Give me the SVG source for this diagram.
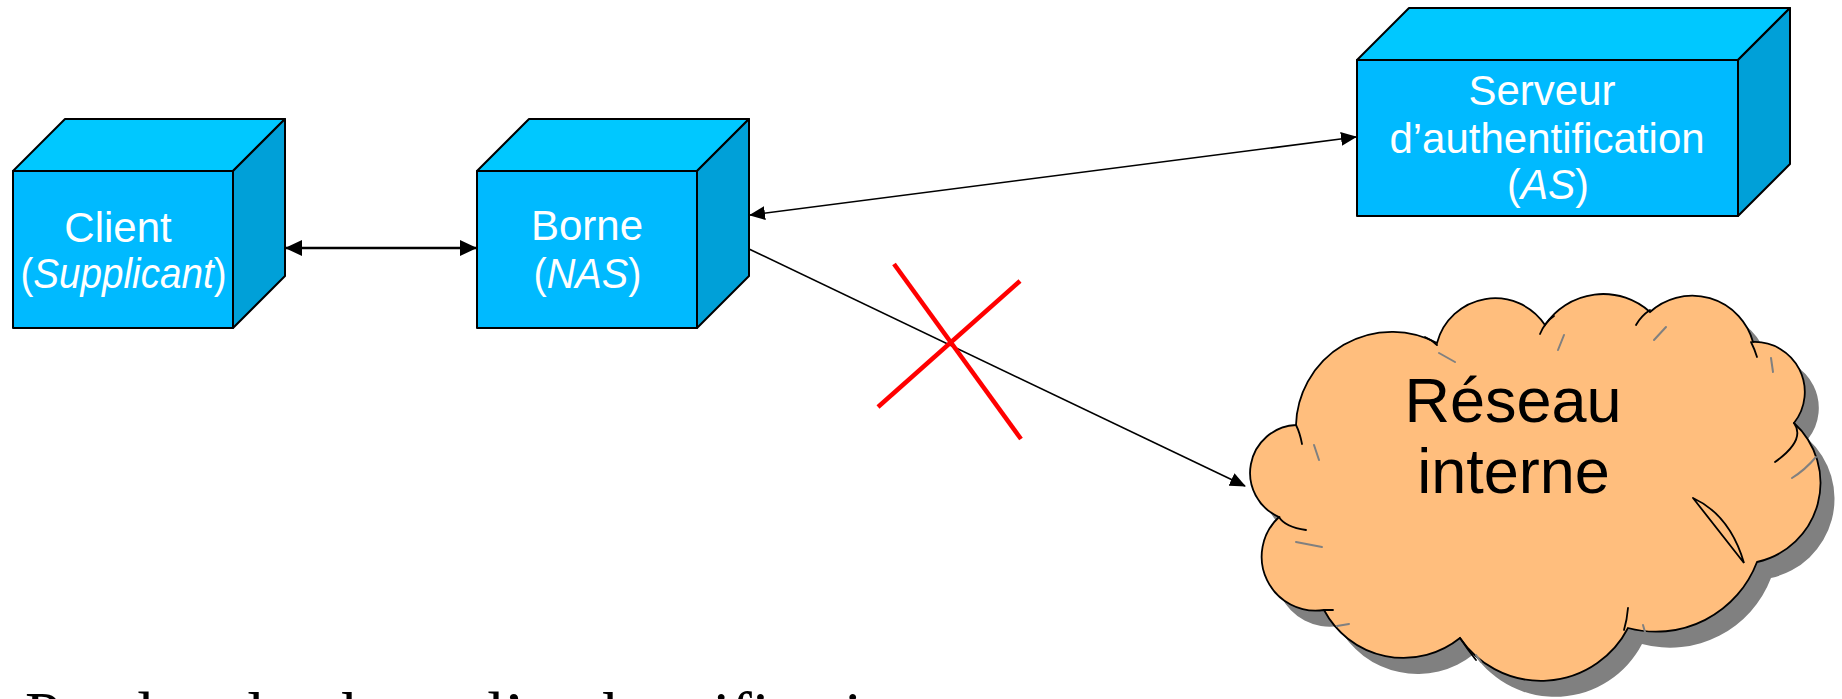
<svg xmlns="http://www.w3.org/2000/svg" width="1842" height="699" viewBox="0 0 1842 699">
<style>
.front{fill:#00BAFF;stroke:#000;stroke-width:2;stroke-linejoin:round}
.top{fill:#00C8FF;stroke:#000;stroke-width:2;stroke-linejoin:round}
.side{fill:#00A0D8;stroke:#000;stroke-width:2;stroke-linejoin:round}
.lbl{font-family:"Liberation Sans",Arial,sans-serif;font-size:42px;fill:#fff;text-anchor:middle}
.conn{stroke:#000;stroke-width:1.6;fill:none}
.inner{stroke:#000;stroke-width:1.8;fill:none;stroke-linecap:round}
.gray{stroke:#808080;stroke-width:2;fill:none;stroke-linecap:round}
.cross{stroke:#FF0000;stroke-width:4.5;stroke-linecap:butt}
</style>
<defs>
<marker id="ah" markerUnits="userSpaceOnUse" markerWidth="16" markerHeight="14" refX="15" refY="7" orient="auto-start-reverse" viewBox="0 0 16 14">
<path d="M0,0 L16,7 L0,14 Z" fill="#000"/>
</marker>
<marker id="ahb" markerUnits="userSpaceOnUse" markerWidth="17" markerHeight="16" refX="16" refY="8" orient="auto-start-reverse" viewBox="0 0 17 16">
<path d="M0,0 L17,8 L0,16 Z" fill="#000"/>
</marker>
</defs>

<g id="client">
<rect class="front" x="13" y="171" width="220" height="157"/>
<polygon class="top" points="13,171 65,119 285,119 233,171"/>
<polygon class="side" points="233,171 285,119 285,276 233,328"/>
<text class="lbl" x="118" y="242">Client</text>
<text class="lbl" x="123.5" y="288" textLength="206" lengthAdjust="spacingAndGlyphs">(<tspan font-style="italic">Supplicant</tspan>)</text>
</g>

<g id="borne">
<rect class="front" x="477" y="171" width="220" height="157"/>
<polygon class="top" points="477,171 529,119 749,119 697,171"/>
<polygon class="side" points="697,171 749,119 749,276 697,328"/>
<text class="lbl" x="587" y="240">Borne</text>
<text class="lbl" x="587.5" y="288" textLength="108" lengthAdjust="spacingAndGlyphs">(<tspan font-style="italic">NAS</tspan>)</text>
</g>

<g id="as">
<rect class="front" x="1357" y="60" width="381" height="156"/>
<polygon class="top" points="1357,60 1409,8 1790,8 1738,60"/>
<polygon class="side" points="1738,60 1790,8 1790,164 1738,216"/>
<text class="lbl" x="1542" y="105">Serveur</text>
<text class="lbl" x="1547" y="153">d’authentification</text>
<text class="lbl" x="1548" y="199" textLength="82" lengthAdjust="spacingAndGlyphs">(<tspan font-style="italic">AS</tspan>)</text>
</g>

<g id="reseau">
<path transform="translate(14,16)" fill="#808080" d="M1279,517 A48,48 0 0 1 1296,425 A96,96 0 0 1 1437,343 A60,60 0 0 1 1545,325 A70,70 0 0 1 1650,312 A63,63 0 0 1 1753,342 A50,50 0 0 1 1794,423 A81,81 0 0 1 1757,562 A108,108 0 0 1 1628,628 A98,98 0 0 1 1460,638 A90,90 0 0 1 1324,610 A54,54 0 0 1 1279,517 Z"/>
<path fill="#FFBE7D" stroke="#000" stroke-width="1.8" d="M1279,517 A48,48 0 0 1 1296,425 A96,96 0 0 1 1437,343 A60,60 0 0 1 1545,325 A70,70 0 0 1 1650,312 A63,63 0 0 1 1753,342 A50,50 0 0 1 1794,423 A81,81 0 0 1 1757,562 A108,108 0 0 1 1628,628 A98,98 0 0 1 1460,638 A90,90 0 0 1 1324,610 A54,54 0 0 1 1279,517 Z"/>
<path class="inner" d="M1296,425 Q1300,433 1302,444"/>
<path class="inner" d="M1425,337 Q1432,340 1437,345"/>
<path class="inner" d="M1540,334 Q1545,322 1554,316"/>
<path class="inner" d="M1636,325 Q1641,316 1650,310"/>
<path class="inner" d="M1751,342 Q1755,350 1757,357"/>
<path class="inner" d="M1794,423 Q1806,440 1775,462"/>
<path class="inner" d="M1693,498 Q1730,515 1744,563 L1693,498"/>
<path class="inner" d="M1628,608 Q1627,620 1624,630"/>
<path class="inner" d="M1460,638 Q1468,650 1476,660"/>
<path class="inner" d="M1279,517 Q1285,527 1306,530"/>
<path class="inner" d="M1324,610 L1333,610"/>
<path class="gray" d="M1439,353 L1455,362"/>
<path class="gray" d="M1564,335 L1558,350"/>
<path class="gray" d="M1666,327 L1654,340"/>
<path class="gray" d="M1771,358 L1773,372"/>
<path class="gray" d="M1816,457 Q1805,470 1792,478"/>
<path class="gray" d="M1314,445 L1319,460"/>
<path class="gray" d="M1296,542 L1322,547"/>
<path class="gray" d="M1337,626 L1349,624"/>
<path class="gray" d="M1643,625 L1645,632"/>
<path class="gray" d="M1476,655 L1481,662"/>
<text x="1513" y="422" font-family="'Liberation Sans',Arial,sans-serif" font-size="63" text-anchor="middle" fill="#000">Réseau</text>
<text x="1513.5" y="493" font-family="'Liberation Sans',Arial,sans-serif" font-size="63" text-anchor="middle" fill="#000">interne</text>
</g>

<g id="connectors">
<line x1="286" y1="248" x2="476" y2="248" stroke="#000" stroke-width="2.6" marker-start="url(#ahb)" marker-end="url(#ahb)"/>
<line class="conn" x1="750" y1="215" x2="1356" y2="137" marker-start="url(#ah)" marker-end="url(#ah)"/>
<line class="conn" x1="749" y1="249" x2="1245" y2="486" marker-end="url(#ah)"/>
</g>

<g id="cross">
<line class="cross" x1="894" y1="264" x2="1021" y2="439"/>
<line class="cross" x1="1020" y1="281" x2="878" y2="407"/>
</g>

<text x="25" y="736" font-family="'Liberation Serif','Times New Roman',serif" font-size="64" fill="#000">Pendant la phase d’authentification</text>
</svg>
